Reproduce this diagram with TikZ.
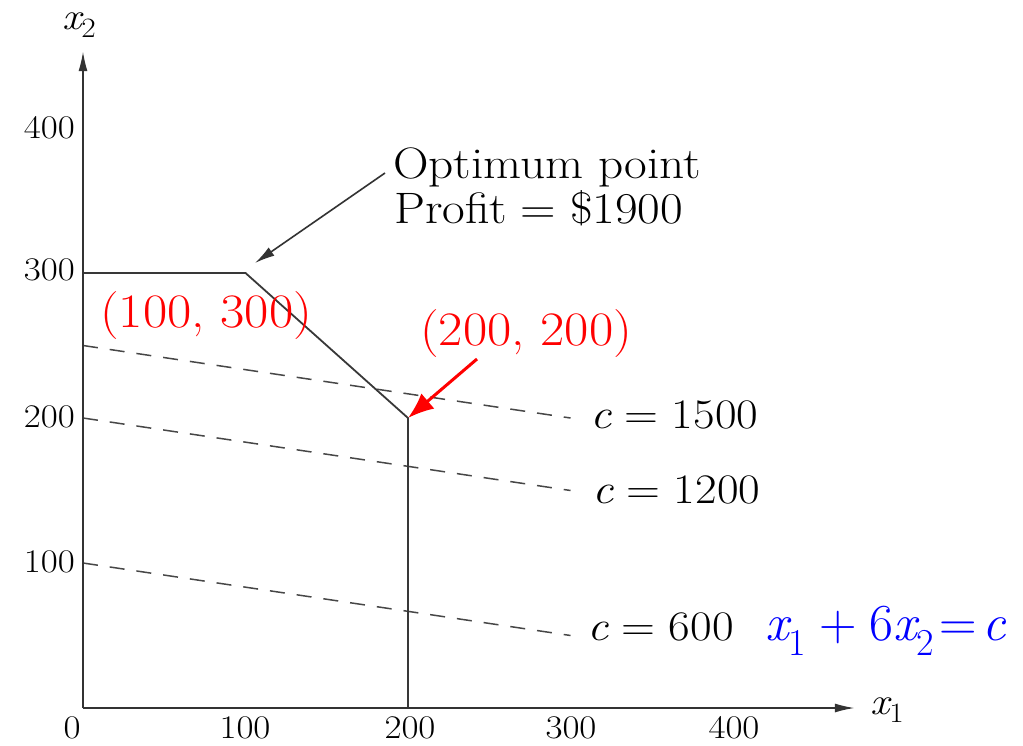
\documentclass[tikz,border=0pt]{standalone}
\usepackage{fontspec}
\usetikzlibrary{arrows.meta}
\newcommand{\sx}[1]{\scalebox{1.12}[1]{#1}}
\newcommand{\sr}[1]{\scalebox{1.1}[1]{#1}}
\newcommand{\lowsub}[1]{\raisebox{-0.3em}{\upshape\fontsize{38}{42}\selectfont #1}}
\newcommand{\axsub}[1]{\raisebox{-0.22em}{\upshape\fontsize{28}{32}\selectfont #1}}
\newcommand{\rsp}{\hspace{0.278em}}
\begin{document}
\begin{tikzpicture}[x=1pt,y=-1pt,
  axis/.style={draw=black!80, line width=1.8pt, -{Latex[length=20pt,width=9pt]}},
  region/.style={draw=black!78, line width=1.8pt, line join=miter},
  level/.style={draw=black!72, line width=1.5pt, dash pattern=on 15pt off 12pt},
  tick/.style={font=\fontsize{33}{38}\selectfont, inner sep=0pt},
  lab/.style={font=\fontsize{42}{46}\selectfont, inner sep=0pt},
  axlab/.style={font=\fontsize{38}{42}\selectfont, inner sep=0pt},
  opt/.style={font=\fontsize{44}{48}\selectfont, inner sep=0pt},
  redlab/.style={font=\fontsize{48}{52}\selectfont, text=red, inner sep=0pt},
  bluelab/.style={font=\fontsize{52}{58}\selectfont, text=blue, inner sep=0pt},
  pointer/.style={draw=black!80, line width=1.6pt, -{Latex[length=20pt,width=10pt]}},
  redpointer/.style={draw=red, line width=3pt, -{Latex[length=26pt,width=20pt]}}]
\useasboundingbox (0,0) rectangle (1023,745);
\begin{scope}[shift={(83,708)}, x=1.625pt, y=1.45pt]
  \coordinate (O) at (0,0);
  \coordinate (xend) at (475,0);
  \coordinate (yend) at (0,453);
  \coordinate (A) at (0,300);
  \coordinate (B) at (100,300);
  \coordinate (C) at (200,200);
  \coordinate (D) at (200,0);
  \coordinate (l1s) at (0,250);
  \coordinate (l1e) at (300,200);
  \coordinate (l2s) at (0,200);
  \coordinate (l2e) at (300,150);
  \coordinate (l3s) at (0,100);
  \coordinate (l3e) at (300,50);
\end{scope}
% level lines
\draw[level] (l1s) -- (l1e);
\draw[level] (l2s) -- (l2e);
\draw[level] (l3s) -- (l3e);
% feasible boundary
\draw[region] (A) -- (B) -- (C) -- (D);
% axes
\draw[axis] (O) -- (xend);
\draw[axis] (O) -- (yend);
% axis labels
\node[axlab, anchor=base west] (xlab) at (870,714) {\sx{\itshape x\axsub{1}}};
\node[axlab, anchor=base west] (ylab) at (62,29) {\sx{\itshape x\axsub{2}}};
% tick labels
\node[tick, anchor=base] (t0) at (72,738) {\sx{0}};
\node[tick, anchor=base] (t100) at (245,738) {\sx{100}};
\node[tick, anchor=base] (t200) at (410,738) {\sx{200}};
\node[tick, anchor=base] (t300) at (571,738) {\sx{300}};
\node[tick, anchor=base] (t400) at (734,738) {\sx{400}};
\node[tick, anchor=base east] (y400) at (75,138) {\sx{400}};
\node[tick, anchor=base east] (y300) at (75,280) {\sx{300}};
\node[tick, anchor=base east] (y200) at (75,427) {\sx{200}};
\node[tick, anchor=base east] (y100) at (75,572) {\sx{100}};
% level labels
\node[lab, anchor=base west] (c1500) at (590,428) {\sx{\textit{c}\rsp=\rsp1500}};
\node[lab, anchor=base west] (c1200) at (592,503) {\sx{\textit{c}\rsp=\rsp1200}};
\node[lab, anchor=base west] (c600) at (587,640) {\sx{\textit{c}\rsp=\rsp600}};
% optimum annotation
\node[opt, anchor=base west] (opt1) at (393,178) {\sx{Optimum point}};
\node[opt, anchor=base west] (opt2) at (394,223) {\sx{Profit\rsp=\rsp\$1900}};
\coordinate (optfrom) at (385,173);
\coordinate (optto) at (255,263);
\draw[pointer] (optfrom) -- (optto);
% red labels
\node[redlab, anchor=base west] (p1) at (100,327) {\sr{(100, 300)}};
\node[redlab, anchor=base west] (p2) at (420,345) {\sr{(200, 200)}};
\coordinate (redfrom) at (477,359);
\draw[redpointer] (redfrom) -- (C);
% objective
\node[bluelab, anchor=base west] (obj) at (765,640) {\itshape x\lowsub{1}\hspace{0.25em}\upshape+\hspace{0.25em}6\itshape x\lowsub{2}\hspace{0.1em}\upshape=\hspace{0.1em}\itshape c};
\end{tikzpicture}
\end{document}
